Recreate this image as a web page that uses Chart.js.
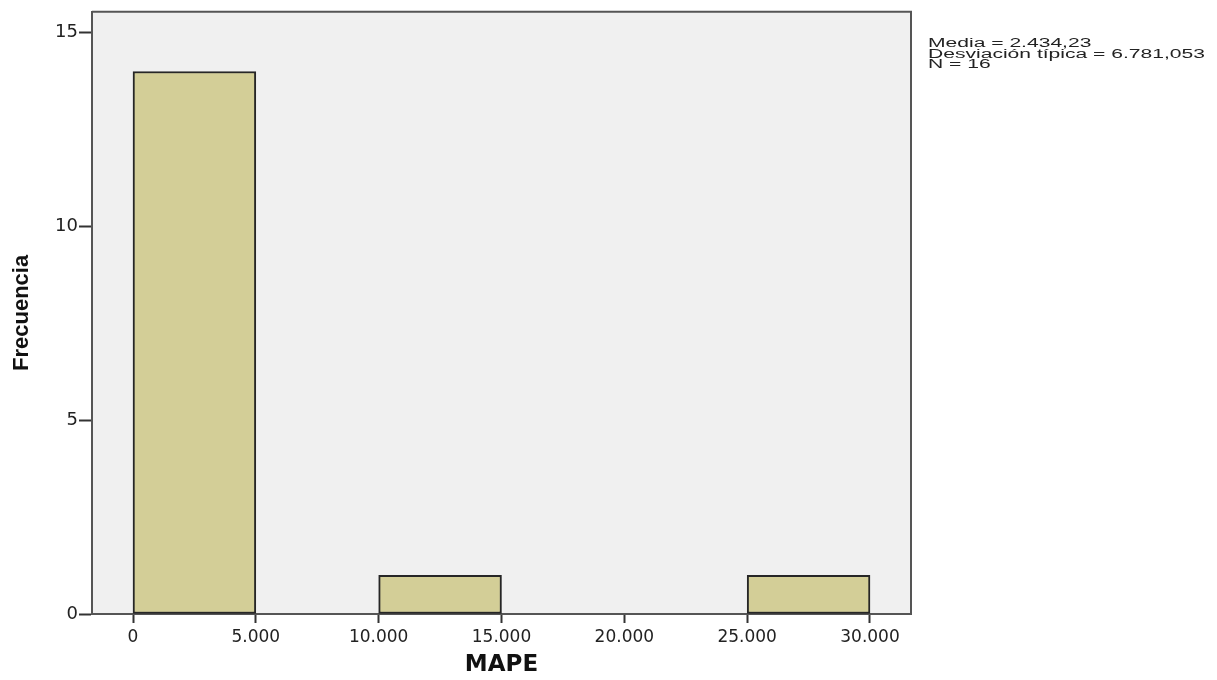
<!DOCTYPE html>
<html>
<head>
<meta charset="utf-8">
<script src="https://cdn.jsdelivr.net/npm/chart.js@4/dist/chart.umd.min.js"></script>
<style>
    html, body { margin: 0; padding: 0; background: #fff; }
    #wrap { width: 1217px; height: 680px; }
</style>
</head>
<body>
<div id="wrap"><canvas id="hist"></canvas></div>
<script>
// histogram bins of MAPE (bin centre, frequency)
var binCenters = [2500, 7500, 12500, 17500, 22500, 27500];
var counts = [14, 0, 1, 0, 0, 1];
var xTicks = [0, 5000, 10000, 15000, 20000, 25000, 30000];
var xTickLabels = ["0", "5.000", "10.000", "15.000", "20.000", "25.000", "30.000"];
var yTicks = [0, 5, 10, 15];
var statsLines = ["Media = 2.434,23", "Desviación típica = 6.781,053", "N = 16"];

var points = binCenters.map(function (c, i) { return { x: c, y: counts[i] }; });

var frame = {
    id: "frame",
    beforeDraw: function (chart) {
        var a = chart.chartArea, ctx = chart.ctx;
        ctx.save();
        ctx.fillStyle = "#f0f0f0";
        ctx.fillRect(a.left, a.top, a.right - a.left, a.bottom - a.top);
        ctx.restore();
    },
    afterDraw: function (chart) {
        var a = chart.chartArea, ctx = chart.ctx;
        ctx.save();
        ctx.strokeStyle = "#555";
        ctx.lineWidth = 2;
        ctx.beginPath();
        ctx.moveTo(a.left, a.top);
        ctx.lineTo(a.right, a.top);
        ctx.lineTo(a.right, a.bottom);
        ctx.stroke();

        // stats text at the right, stretched like the original
        ctx.font = "12px 'Liberation Sans', Arial, sans-serif";
        ctx.fillStyle = "#222";
        ctx.textBaseline = "alphabetic";
        var sx = 277 / ctx.measureText(statsLines[1]).width;
        var base = [47, 57.5, 68];
        for (var i = 0; i < statsLines.length; i++) {
            ctx.save();
            ctx.translate(a.right + 17, base[i]);
            ctx.scale(sx, 1);
            ctx.fillText(statsLines[i], 0, 0);
            ctx.restore();
        }
        ctx.restore();
    }
};

new Chart(document.getElementById("hist"), {
    type: "bar",
    data: {
        datasets: [{
            data: points,
            backgroundColor: "#d3ce97",
            borderColor: "#262626",
            borderWidth: 2,
            borderSkipped: false,
            barPercentage: 1,
            categoryPercentage: 1,
            grouped: false
        }]
    },
    options: {
        responsive: true,
        maintainAspectRatio: false,
        animation: false,
        layout: { padding: { top: 9, right: 306, bottom: 0, left: 0 } },
        plugins: { legend: { display: false }, tooltip: { enabled: false } },
        scales: {
            x: {
                type: "linear",
                offset: false,
                min: -1669,
                max: 31669,
                afterBuildTicks: function (s) { s.ticks = xTicks.map(function (v) { return { value: v }; }); },
                afterFit: function (s) { s.height = 66; },
                ticks: {
                    autoSkip: false,
                    maxRotation: 0,
                    padding: 4,
                    color: "#222",
                    font: { family: "'DejaVu Sans'", size: 17 },
                    callback: function (v) { return xTickLabels[xTicks.indexOf(v)]; }
                },
                grid: { offset: false, drawOnChartArea: false, tickLength: 9, color: "#333", tickColor: "#333", tickWidth: 2 },
                border: { color: "#555", width: 2 },
                title: {
                    display: true,
                    text: "MAPE",
                    color: "#111",
                    font: { family: "'DejaVu Sans'", size: 23, weight: "bold", lineHeight: 1 },
                    padding: { top: 3.5, bottom: 3.5 }
                }
            },
            y: {
                min: 0,
                max: 15.54,
                afterBuildTicks: function (s) { s.ticks = yTicks.map(function (v) { return { value: v }; }); },
                afterFit: function (s) { s.width = 92; },
                ticks: {
                    padding: 1,
                    color: "#222",
                    font: { family: "'DejaVu Sans'", size: 18 }
                },
                grid: { drawOnChartArea: false, tickLength: 13, color: "#333", tickWidth: 2 },
                border: { color: "#555", width: 2 },
                title: {
                    display: true,
                    text: "Frecuencia",
                    color: "#111",
                    font: { family: "'Liberation Sans', Arial, sans-serif", size: 22, weight: "bold", lineHeight: 1 },
                    padding: { top: 11, bottom: 8 }
                }
            }
        }
    },
    plugins: [frame]
});
</script>
</body>
</html>
